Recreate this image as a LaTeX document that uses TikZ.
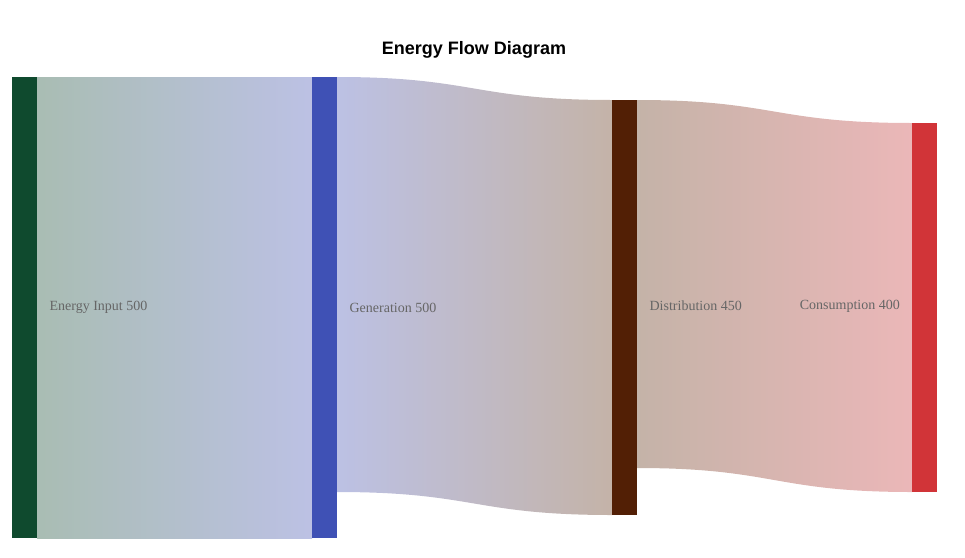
\documentclass[tikz,border=0pt]{standalone}
\usepackage{fontspec}
\setmainfont{Liberation Serif}
\newfontfamily\titlefont{Liberation Sans}
\usetikzlibrary{calc}
\definecolor{inputc}{HTML}{0F4A2E}
\definecolor{genc}{HTML}{3F51B5}
\definecolor{distc}{HTML}{521F05}
\definecolor{consc}{HTML}{D13438}
\definecolor{inputl}{HTML}{A9BDB3}
\definecolor{genl}{HTML}{BCC1E4}
\definecolor{distl}{HTML}{C4B3A8}
\definecolor{consl}{HTML}{EBB7B8}
\definecolor{labelc}{HTML}{666666}
\begin{document}
\begin{tikzpicture}[x=1pt,y=-1pt,
  bar/.style={draw=none,minimum width=25pt,inner sep=0pt,anchor=north west},
  lbl/.style={text=labelc,font=\fontsize{14}{16}\selectfont,inner sep=0pt}]
  \useasboundingbox (0,0) rectangle (965,557);
  \node [font=\titlefont\bfseries\fontsize{18}{20}\selectfont] (title) at (474,50) {Energy Flow Diagram};

  % links
  \shade [left color=inputl,right color=genl] (37,77) rectangle (312,538);
  \shade [left color=genl,right color=distl]
    (337,77) .. controls (474,77) and (474,100) .. (612,100)
    -- (612,515) .. controls (474,515) and (474,492) .. (337,492) -- cycle;
  \shade [left color=distl,right color=consl]
    (637,100) .. controls (774,100) and (774,123) .. (912,123)
    -- (912,492) .. controls (774,492) and (774,468) .. (637,468) -- cycle;

  % bars
  \node [bar,fill=inputc,minimum height=461pt] (input) at (12,77) {};
  \node [bar,fill=genc,minimum height=461pt] (gen) at (312,77) {};
  \node [bar,fill=distc,minimum height=415pt] (dist) at (612,100) {};
  \node [bar,fill=consc,minimum height=369pt] (cons) at (912,123) {};

  % labels
  \node [lbl,anchor=west] at ($(input.east)+(12,0)$) {Energy Input 500};
  \node [lbl,anchor=west] at ($(gen.east)+(12,0)$) {Generation 500};
  \node [lbl,anchor=west] at ($(dist.east)+(12,-1.5)$) {Distribution 450};
  \node [lbl,anchor=east] at ($(cons.west)+(-12,-1.5)$) {Consumption 400};
\end{tikzpicture}
\end{document}
